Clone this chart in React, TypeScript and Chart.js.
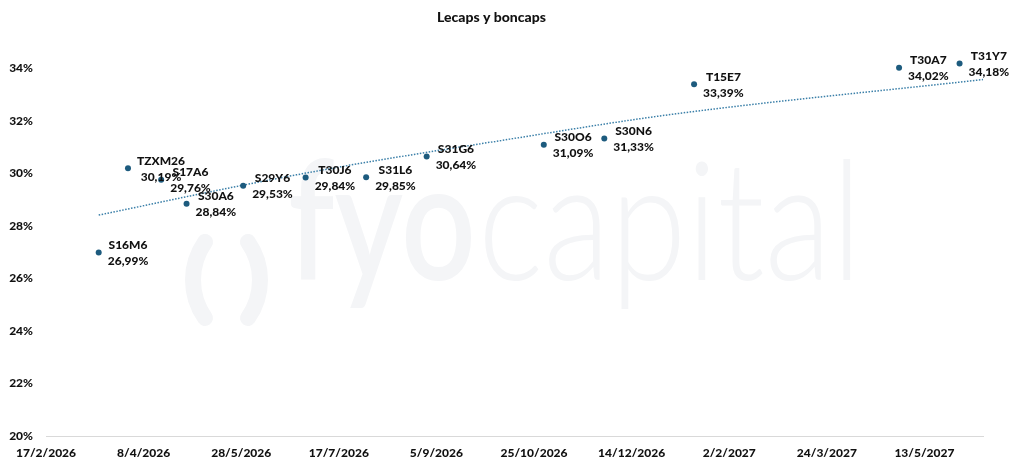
import { useEffect, useRef } from 'react';
import { Chart, registerables } from 'chart.js';

Chart.register(...registerables);

// ---- data ----
const axisStart = '2026-02-17';
const axisSpanDays = 480;
const tickStepDays = 50;

const names = ['S16M6', 'TZXM26', 'S17A6', 'S30A6', 'S29Y6', 'T30J6', 'S31L6', 'S31G6', 'S30O6', 'S30N6', 'T15E7', 'T30A7', 'T31Y7'];
const maturities = ['2026-03-16', '2026-03-31', '2026-04-17', '2026-04-30', '2026-05-29', '2026-06-30', '2026-07-31', '2026-08-31', '2026-10-30', '2026-11-30', '2027-01-15', '2027-04-30', '2027-05-31'];
const yields = [26.99, 30.19, 29.76, 28.84, 29.53, 29.84, 29.85, 30.64, 31.09, 31.33, 33.39, 34.02, 34.18];

// trend line
const trendDates = ['2026-03-16', '2026-05-29', '2026-07-18', '2026-10-09', '2027-01-02', '2027-06-12'];
const trendValues = [28.41, 29.55, 30.25, 31.26, 32.23, 33.57];

const yMin = 20;
const yMax = 35;
const yStep = 2;

const FONT = 'Lato';
const WEIGHT = 900;
const INK = '#111111';
const DOT = '#1d5b7e';
const TREND = '#3a7fa8';

function parse(s: string) {
  const [y, m, d] = s.split('-').map(Number);
  return Date.UTC(y, m - 1, d);
}
const base = parse(axisStart);
function dayOf(s: string) {
  return Math.round((parse(s) - base) / 86400000);
}
function fmtDay(v: number) {
  const dt = new Date(base + v * 86400000);
  return `${dt.getUTCDate()}/${dt.getUTCMonth() + 1}/${dt.getUTCFullYear()}`;
}
function fmtPct(v: number) {
  return v.toFixed(2).replace('.', ',') + '%';
}

const watermarkPlugin = {
  id: 'watermark',
  beforeDatasetsDraw(chart: any) {
    const ctx = chart.ctx as CanvasRenderingContext2D;
    ctx.save();
    const col = '#f4f5f7';
    ctx.strokeStyle = col;
    ctx.fillStyle = col;
    ctx.lineWidth = 16;
    ctx.lineCap = 'round';
    const r = 66;
    const cy = 280;
    const half = Math.asin(38 / r);
    ctx.beginPath();
    ctx.arc(259, cy, r, Math.PI - half, Math.PI + half);
    ctx.stroke();
    ctx.beginPath();
    ctx.arc(194, cy, r, -half, half);
    ctx.stroke();

    const drawFit = (text: string, font: string, x0: number, x1: number, baseline: number) => {
      ctx.font = font;
      const w = ctx.measureText(text).width;
      ctx.save();
      ctx.translate(x0, baseline);
      ctx.scale((x1 - x0) / w, 1);
      ctx.textAlign = 'left';
      ctx.textBaseline = 'alphabetic';
      ctx.fillText(text, 0, 0);
      ctx.restore();
    };
    drawFit('fyo', `600 165px ${FONT}`, 288, 476, 280);
    drawFit('capital', `300 165px ${FONT}`, 478, 862, 280);
    ctx.restore();
  },
};

const labelPlugin = {
  id: 'pointLabels',
  afterDatasetsDraw(chart: any) {
    const ctx = chart.ctx as CanvasRenderingContext2D;
    const meta = chart.getDatasetMeta(0);
    ctx.save();
    ctx.font = `${WEIGHT} 12px ${FONT}`;
    ctx.fillStyle = INK;
    ctx.textAlign = 'center';
    ctx.textBaseline = 'middle';
    meta.data.forEach((el: any, i: number) => {
      const l1 = names[i];
      const l2 = fmtPct(yields[i]);
      const w = Math.max(ctx.measureText(l1).width, ctx.measureText(l2).width);
      const cx = el.x + 9 + w / 2;
      ctx.fillText(l1, cx, el.y - 7.5);
      ctx.fillText(l2, cx, el.y + 8.5);
    });
    ctx.restore();
  },
};

export default function App() {
  const ref = useRef<HTMLCanvasElement | null>(null);

  useEffect(() => {
    if (!ref.current) return;
    const points = maturities.map((m, i) => ({ x: dayOf(m), y: yields[i] }));
    const trend = trendDates.map((d, i) => ({ x: dayOf(d), y: trendValues[i] }));

    const chart = new Chart(ref.current, {
      type: 'scatter',
      data: {
        datasets: [
          {
            label: 'Lecaps y boncaps',
            data: points,
            pointRadius: 3,
            pointHoverRadius: 3,
            backgroundColor: DOT,
            borderWidth: 0,
            showLine: false,
          },
          {
            label: 'Tendencia',
            type: 'line',
            data: trend,
            borderColor: TREND,
            borderWidth: 1.5,
            borderDash: [1.5, 1.5],
            pointRadius: 0,
            cubicInterpolationMode: 'monotone',
            fill: false,
          } as any,
        ],
      },
      options: {
        animation: false,
        responsive: false,
        layout: { padding: { left: 0, right: 41, top: 0, bottom: 0 } },
        plugins: {
          legend: { display: false },
          tooltip: { enabled: false },
          title: {
            display: true,
            text: 'Lecaps y boncaps',
            color: INK,
            font: { family: FONT, size: 14, weight: WEIGHT as any },
            padding: { top: 9, bottom: 16.2 },
          },
        },
        scales: {
          x: {
            type: 'linear',
            min: 0,
            max: axisSpanDays,
            grid: { display: false, drawTicks: false },
            border: { display: true, color: '#d9d9d9', width: 1 },
            ticks: {
              stepSize: tickStepDays,
              includeBounds: false,
              maxRotation: 0,
              autoSkip: false,
              padding: 10,
              color: INK,
              font: { family: FONT, size: 12, weight: WEIGHT as any },
              callback: (v: any) => fmtDay(Number(v)),
            },
            afterFit: (s: any) => {
              s.height = 32;
            },
          },
          y: {
            type: 'linear',
            min: yMin,
            max: yMax,
            grid: { display: false, drawTicks: false },
            border: { display: false },
            ticks: {
              stepSize: yStep,
              includeBounds: false,
              padding: 13,
              color: INK,
              font: { family: FONT, size: 12, weight: WEIGHT as any },
              callback: (v: any) => `${v}%`,
            },
            afterFit: (s: any) => {
              s.width = 46;
            },
          },
        },
      },
      plugins: [watermarkPlugin, labelPlugin],
    });
    return () => chart.destroy();
  }, []);

  return (
    <div style={{ position: 'absolute', left: 0, top: 0, width: 1024, height: 468, background: '#ffffff' }}>
      <canvas ref={ref} width={1024} height={468} />
    </div>
  );
}
